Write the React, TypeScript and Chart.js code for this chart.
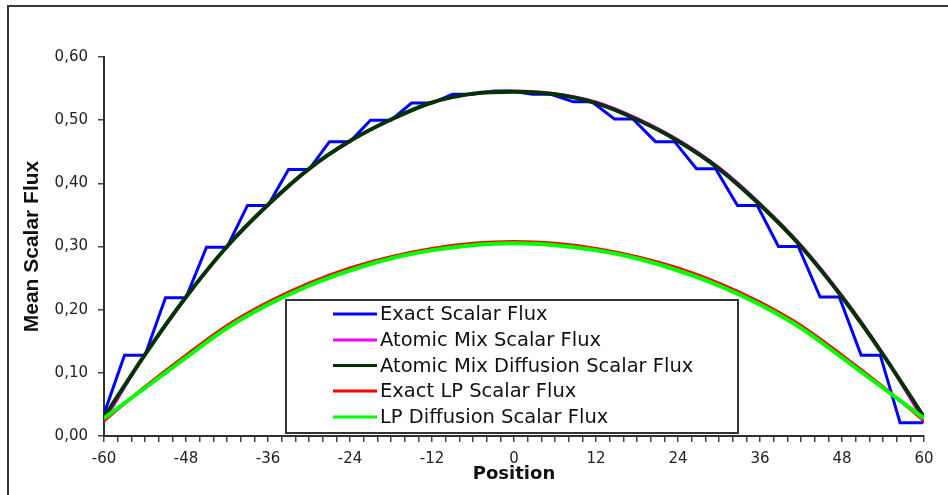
import React, { useEffect, useRef } from 'react';
import { Chart, registerables } from 'chart.js';

Chart.register(...registerables);

// ---- data ----
const seriesLabels = [
  'Exact Scalar Flux',
  'Atomic Mix Scalar Flux',
  'Atomic Mix Diffusion Scalar Flux',
  'Exact LP Scalar Flux',
  'LP Diffusion Scalar Flux',
];
const seriesColors = ['#0000FF', '#FF00FF', '#003300', '#FF0000', '#00FF00'];

const exactX = [
  -60, -57, -54, -51, -48, -45, -42, -39, -36, -33, -30, -27, -24, -21, -18, -15, -12, -9, -6, -3, -0.5,
  2.7, 5.4, 8.7, 11.4, 14.7, 17.4, 20.7, 23.5, 26.7, 29.5, 32.7, 35.6, 38.7, 41.6, 44.8, 47.6, 50.8, 53.6,
  56.5, 59.7, 60,
];
const exactFlux = [
  0.035, 0.128, 0.128, 0.219, 0.219, 0.299, 0.299, 0.365, 0.365, 0.422, 0.422, 0.466, 0.466, 0.5, 0.5,
  0.527, 0.527, 0.541, 0.541, 0.546, 0.546, 0.541, 0.541, 0.529, 0.529, 0.502, 0.502, 0.466, 0.466, 0.423,
  0.423, 0.365, 0.365, 0.3, 0.3, 0.22, 0.22, 0.128, 0.128, 0.021, 0.021, 0.028,
];

const curveX = [-60, -54, -48, -42, -36, -30, -24, -18, -12, -6, 0, 6, 12, 18, 24, 30, 36, 42, 48, 54, 60];
const atomicMix = [
  0.023, 0.129, 0.22, 0.3, 0.366, 0.423, 0.467, 0.501, 0.528, 0.542, 0.546, 0.542, 0.529, 0.503, 0.469,
  0.425, 0.368, 0.302, 0.222, 0.13, 0.023,
];
const atomicMixDiffusion = [
  0.03, 0.129, 0.22, 0.3, 0.366, 0.423, 0.467, 0.501, 0.528, 0.542, 0.545, 0.541, 0.527, 0.501, 0.467,
  0.423, 0.366, 0.3, 0.22, 0.129, 0.03,
];
const exactLP = [
  0.024, 0.078, 0.128, 0.175, 0.212, 0.242, 0.266, 0.284, 0.297, 0.305, 0.308, 0.305, 0.297, 0.284, 0.266,
  0.242, 0.212, 0.175, 0.128, 0.078, 0.024,
];
const lpDiffusion = [
  0.028, 0.076, 0.124, 0.171, 0.208, 0.238, 0.262, 0.281, 0.294, 0.302, 0.305, 0.302, 0.294, 0.281, 0.262,
  0.238, 0.208, 0.171, 0.124, 0.076, 0.028,
];

const xLabelValues = [-60, -48, -36, -24, -12, 0, 12, 24, 36, 48, 60];
const xTickLabels = ['-60', '-48', '-36', '-24', '-12', '0', '12', '24', '36', '48', '60'];
const yLabelValues = [0, 0.1, 0.2, 0.3, 0.4, 0.5, 0.6];
const yTickLabels = ['0,00', '0,10', '0,20', '0,30', '0,40', '0,50', '0,60'];

const xTitle = 'Position';
const yTitle = 'Mean Scalar Flux';

const toPoints = (xs: number[], ys: number[]) => xs.map((x, i) => ({ x, y: ys[i] }));

const legendPlugin = {
  id: 'boxLegend',
  afterDatasetsDraw(chart: any) {
    const ctx = chart.ctx as CanvasRenderingContext2D;
    const bx = 286, by = 300, bw = 452, bh = 133;
    ctx.save();
    ctx.fillStyle = '#ffffff';
    ctx.fillRect(bx, by, bw, bh);
    ctx.strokeStyle = '#333333';
    ctx.lineWidth = 2;
    ctx.strokeRect(bx, by, bw, bh);
    const rows = [314, 340, 365.5, 391, 417];
    const order = [0, 1, 2, 3, 4];
    ctx.font = '19.5px "DejaVu Sans"';
    ctx.textBaseline = 'middle';
    ctx.textAlign = 'left';
    order.forEach((di, r) => {
      const ds = chart.data.datasets[di];
      ctx.strokeStyle = ds.borderColor;
      ctx.lineWidth = 3;
      ctx.beginPath();
      ctx.moveTo(333, rows[r]);
      ctx.lineTo(377, rows[r]);
      ctx.stroke();
      ctx.fillStyle = '#111111';
      ctx.fillText(ds.label, 380, rows[r] + 1);
    });
    ctx.restore();
  },
};

export default function App() {
  const canvasRef = useRef<HTMLCanvasElement | null>(null);

  useEffect(() => {
    if (!canvasRef.current) return;
    const series = [
      toPoints(exactX, exactFlux),
      toPoints(curveX, atomicMix),
      toPoints(curveX, atomicMixDiffusion),
      toPoints(curveX, exactLP),
      toPoints(curveX, lpDiffusion),
    ];
    const widths = [3, 3, 4, 3, 4];
    const chart = new Chart(canvasRef.current, {
      type: 'line',
      data: {
        datasets: series.map((data, i) => ({
          label: seriesLabels[i],
          data,
          borderColor: seriesColors[i],
          backgroundColor: seriesColors[i],
          borderWidth: widths[i],
          pointRadius: 0,
          fill: false,
          tension: 0,
          cubicInterpolationMode: i === 0 ? 'default' : 'monotone',
          order: 4 - i,
        })),
      },
      options: {
        animation: false,
        responsive: false,
        devicePixelRatio: 1,
        layout: { padding: { left: 0, top: 57, right: 24, bottom: 0 } },
        plugins: { legend: { display: false }, tooltip: { enabled: false } },
        scales: {
          x: {
            type: 'linear',
            min: -60,
            max: 60,
            afterFit: (s: any) => {
              s.height = 59;
            },
            border: { display: true, color: '#303030', width: 2 },
            grid: { drawOnChartArea: false, drawTicks: true, tickLength: 6, color: '#444444', lineWidth: 1.5 },
            ticks: {
              stepSize: 2,
              maxTicksLimit: 100,
              autoSkip: false,
              maxRotation: 0,
              padding: 8,
              color: '#222222',
              font: { family: '"DejaVu Sans"', size: 15 },
              callback: (v: any) => {
                const idx = xLabelValues.indexOf(Math.round(Number(v)));
                return idx >= 0 && Math.abs(Number(v) - xLabelValues[idx]) < 1e-6 ? xTickLabels[idx] : '';
              },
            },
            title: {
              display: true,
              text: xTitle,
              color: '#111111',
              font: { family: '"DejaVu Sans"', size: 18, weight: 'bold' },
              padding: { top: 0, bottom: 9.5 },
            },
          },
          y: {
            type: 'linear',
            min: 0,
            max: 0.6,
            afterFit: (s: any) => {
              s.width = 104;
            },
            border: { display: true, color: '#303030', width: 2 },
            grid: { drawOnChartArea: false, drawTicks: true, tickLength: 6, color: '#444444', lineWidth: 1.5 },
            ticks: {
              stepSize: 0.1,
              padding: 10,
              color: '#222222',
              font: { family: '"DejaVu Sans"', size: 15 },
              callback: (v: any) => {
                const n = Number(v);
                const idx = yLabelValues.findIndex((t) => Math.abs(t - n) < 1e-6);
                return idx >= 0 ? yTickLabels[idx] : '';
              },
            },
            title: {
              display: true,
              text: yTitle,
              color: '#111111',
              font: { family: '"Liberation Sans"', size: 21, weight: 'bold' },
              padding: { top: 20, bottom: 0 },
            },
          },
        },
      },
      plugins: [legendPlugin],
    } as any);
    return () => chart.destroy();
  }, []);

  return (
    <div>
      <div
        style={{
          position: 'absolute',
          left: 7,
          top: 5,
          width: 941,
          height: 490,
          borderTop: '2px solid #3a3a3a',
          borderLeft: '2px solid #3a3a3a',
          boxSizing: 'border-box',
        }}
      />
      <canvas
        ref={canvasRef}
        width={948}
        height={495}
        style={{ position: 'absolute', left: 0, top: 0, width: 948, height: 495, display: 'block' }}
      />
    </div>
  );
}
